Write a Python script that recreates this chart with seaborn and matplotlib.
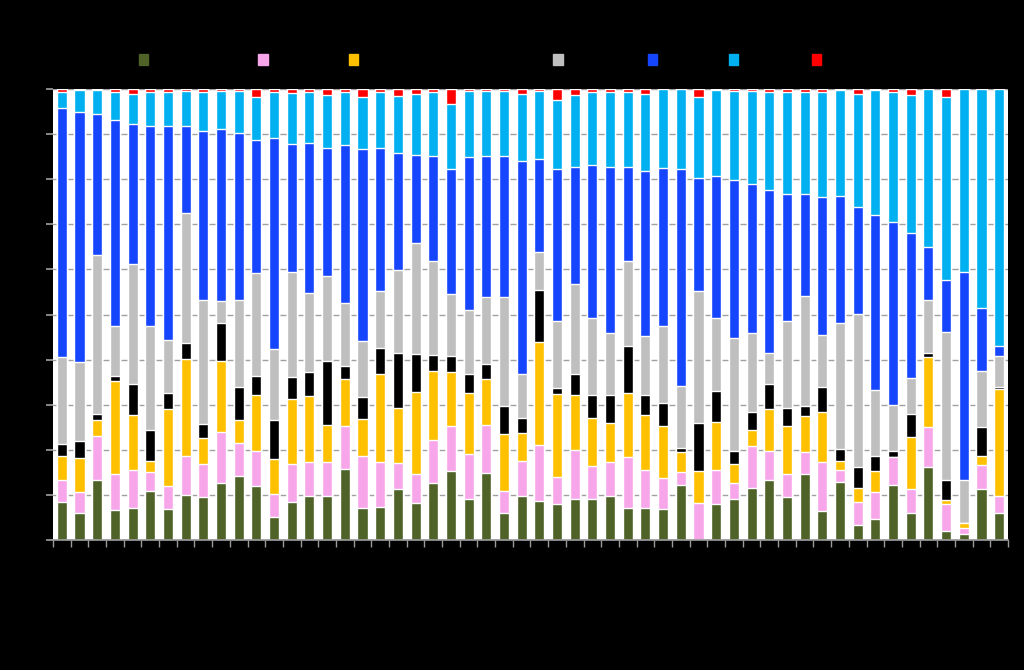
import numpy as np
import pandas as pd
import matplotlib.pyplot as plt
import seaborn as sns

# categories along the x axis (labels are drawn black on black in the original)
years = [str(y) for y in range(1970, 2024)]

# share of each series per bar (percent)
green = [8.5, 6.1, 13.3, 6.7, 7.0, 10.9, 6.9, 10.0, 9.5, 12.6, 14.2, 12.0, 5.0, 8.4,
         9.8, 9.8, 15.7, 7.2, 7.4, 11.3, 8.1, 12.6, 15.2, 9.0, 14.9, 5.9, 9.8,
         8.6, 7.9, 9.2, 9.2, 9.8, 7.2, 7.2, 6.8, 12.2, 0.0, 7.9, 9.0, 11.6, 13.3,
         9.5, 14.6, 6.5, 12.8, 3.3, 4.7, 12.2, 6.1, 16.1, 2.0, 1.3, 11.2, 6.1]
pink = [4.8, 4.5, 9.8, 8.0, 8.5, 4.2, 5.0, 8.5, 7.3, 11.3, 7.2, 7.7, 5.1, 8.4,
        7.5, 7.5, 9.5, 11.5, 9.8, 5.9, 6.5, 9.6, 10.1, 10.1, 10.6, 5.0, 7.8,
        12.4, 6.1, 10.7, 7.2, 7.5, 11.1, 8.3, 6.9, 2.8, 8.1, 7.6, 3.7, 9.3, 6.5,
        5.2, 4.9, 10.9, 2.6, 5.2, 5.9, 6.1, 5.2, 9.0, 6.0, 1.3, 5.4, 3.7]
yellow = [5.4, 7.7, 3.5, 20.5, 12.2, 2.4, 17.1, 21.6, 5.8, 15.7, 5.2, 12.4, 7.8, 14.6,
          14.6, 8.3, 10.5, 8.1, 19.5, 12.0, 18.3, 15.4, 11.9, 13.5, 10.3, 12.6, 6.2,
          22.9, 18.3, 12.2, 10.6, 8.6, 14.2, 12.2, 11.5, 4.6, 7.2, 10.6, 4.1, 3.5, 9.2,
          10.6, 7.9, 11.1, 2.0, 3.0, 4.8, 0.0, 11.6, 15.5, 0.9, 1.1, 2.0, 23.7]
black = [2.6, 3.7, 1.4, 1.3, 7.0, 6.8, 3.5, 3.5, 3.2, 8.6, 7.4, 4.2, 8.6, 4.7,
         5.4, 14.2, 2.8, 4.8, 5.8, 12.2, 8.3, 3.5, 3.5, 4.2, 3.2, 6.3, 3.2,
         11.5, 1.3, 4.7, 5.2, 6.1, 10.6, 4.4, 5.3, 0.9, 10.7, 7.0, 3.0, 3.9, 5.5,
         3.9, 2.4, 5.4, 2.7, 4.6, 3.3, 1.5, 5.0, 0.9, 4.4, 0.0, 6.4, 0.6]
grey = [19.2, 17.6, 35.1, 11.1, 26.4, 23.1, 11.8, 28.8, 27.5, 4.7, 19.2, 22.9, 15.8, 23.3,
        17.5, 18.9, 14.0, 12.5, 12.6, 18.5, 24.6, 20.9, 13.8, 14.3, 14.8, 24.0, 9.8,
        8.4, 14.9, 20.0, 17.0, 13.8, 18.8, 13.2, 17.0, 13.7, 29.2, 16.2, 24.9, 17.7, 6.9,
        19.4, 24.3, 11.5, 27.9, 34.1, 14.5, 10.1, 8.0, 11.8, 32.7, 9.6, 12.5, 6.7]
blue = [55.2, 55.3, 31.3, 45.7, 31.1, 44.3, 47.3, 19.4, 37.5, 38.3, 37.0, 29.4, 46.9, 28.5,
        33.3, 28.4, 35.1, 42.5, 31.9, 25.9, 19.6, 23.2, 27.8, 34.0, 31.3, 31.3, 47.3,
        20.7, 33.7, 25.9, 34.0, 36.8, 20.7, 36.6, 35.0, 48.0, 24.9, 31.4, 35.1, 32.9, 36.1,
        28.2, 22.6, 30.7, 28.2, 23.7, 39.0, 40.7, 32.2, 11.7, 11.6, 46.2, 13.9, 2.4]
cyan = [3.7, 5.0, 5.3, 6.1, 6.6, 7.4, 7.6, 7.7, 8.6, 8.4, 9.4, 9.5, 10.2, 11.4,
        11.5, 11.7, 11.7, 11.7, 12.3, 12.8, 13.5, 14.3, 14.3, 14.6, 14.5, 14.5, 14.8,
        15.1, 15.3, 16.0, 16.1, 16.6, 16.8, 17.0, 17.6, 17.8, 18.0, 19.1, 19.7, 20.7, 21.8,
        22.7, 22.7, 23.3, 23.5, 25.1, 27.7, 28.8, 30.7, 35.0, 40.5, 40.5, 48.6, 57.0]
red = [0.6, 0.2, 0.2, 0.7, 1.2, 0.7, 0.7, 0.4, 0.7, 0.4, 0.4, 1.8, 0.6, 0.8,
       0.6, 1.3, 0.7, 1.7, 0.7, 1.5, 1.1, 0.6, 3.4, 0.4, 0.4, 0.4, 1.2,
       0.4, 2.4, 1.3, 0.7, 0.6, 0.6, 1.1, 0.0, 0.0, 1.8, 0.2, 0.4, 0.4, 0.7,
       0.6, 0.6, 0.7, 0.2, 1.1, 0.2, 0.6, 1.3, 0.0, 1.8, 0.0, 0.0, 0.0]

series = ['Primary sector', 'Electricity', 'Construction', 'Agriculture',
          'Household', 'Services', 'Retailing', 'Other']
colors = ['#4f6228', '#f7a6ea', '#ffc000', '#000000', '#bfbfbf', '#1645fe', '#00b0f0', '#ff0000']

df = pd.DataFrame(np.array([green, pink, yellow, black, grey, blue, cyan, red]).T,
                  index=years, columns=series)
# 100 % stacked
df = df.div(df.sum(axis=1), axis=0) * 100
cum = df.cumsum(axis=1)

sns.set_theme(style='white')
plt.rcParams['font.family'] = ['DejaVu Sans']

fig = plt.figure(figsize=(10.24, 6.70), dpi=100, facecolor='black')
ax = fig.add_axes([53 / 1024, 1 - 540 / 670, 955 / 1024, 451 / 670])
ax.set_facecolor('white')

# draw from the top of the stack down so each layer covers the one above
for name, col in zip(series[::-1], colors[::-1]):
    sns.barplot(x=years, y=cum[name].values, color=col, width=0.57,
                saturation=1, errorbar=None, ax=ax, zorder=2)

ax.set_xlim(-0.5, len(years) - 0.5)
ax.set_ylim(0, 100)
ax.set_yticks(np.arange(0, 101, 10))
ax.set_yticklabels([f'{v}%' for v in range(0, 101, 10)], color='black', fontsize=9)
ax.yaxis.grid(True, color='#a0a0a0', linewidth=1)
ax.set_axisbelow(True)
ax.set_xlabel('')
ax.set_ylabel('')

ax.set_xticks(range(len(years)))
ax.set_xticklabels(years, rotation=90, color='black', fontsize=9)
ax.set_xticks(np.arange(-0.5, len(years), 1), minor=True)
ax.tick_params(axis='x', which='major', length=0)
ax.tick_params(axis='x', which='minor', length=5, color='#9a9a9a', bottom=True)
ax.tick_params(axis='y', length=5, color='#9a9a9a', left=True)
for side in ['top', 'right', 'left']:
    ax.spines[side].set_visible(False)
ax.spines['bottom'].set_color('#9a9a9a')

handles = [plt.Rectangle((0, 0), 1, 1, color=c) for c in colors]
fig.legend(handles, series, ncol=8, loc='center left', bbox_to_anchor=(139 / 1024, 1 - 60 / 670),
           frameon=False, fontsize=9, handlelength=0.75, handleheight=1.0,
           handletextpad=0.5, columnspacing=1.0, borderpad=0, borderaxespad=0,
           labelcolor='black')

fig.savefig('out.png', dpi=100, facecolor='black')
